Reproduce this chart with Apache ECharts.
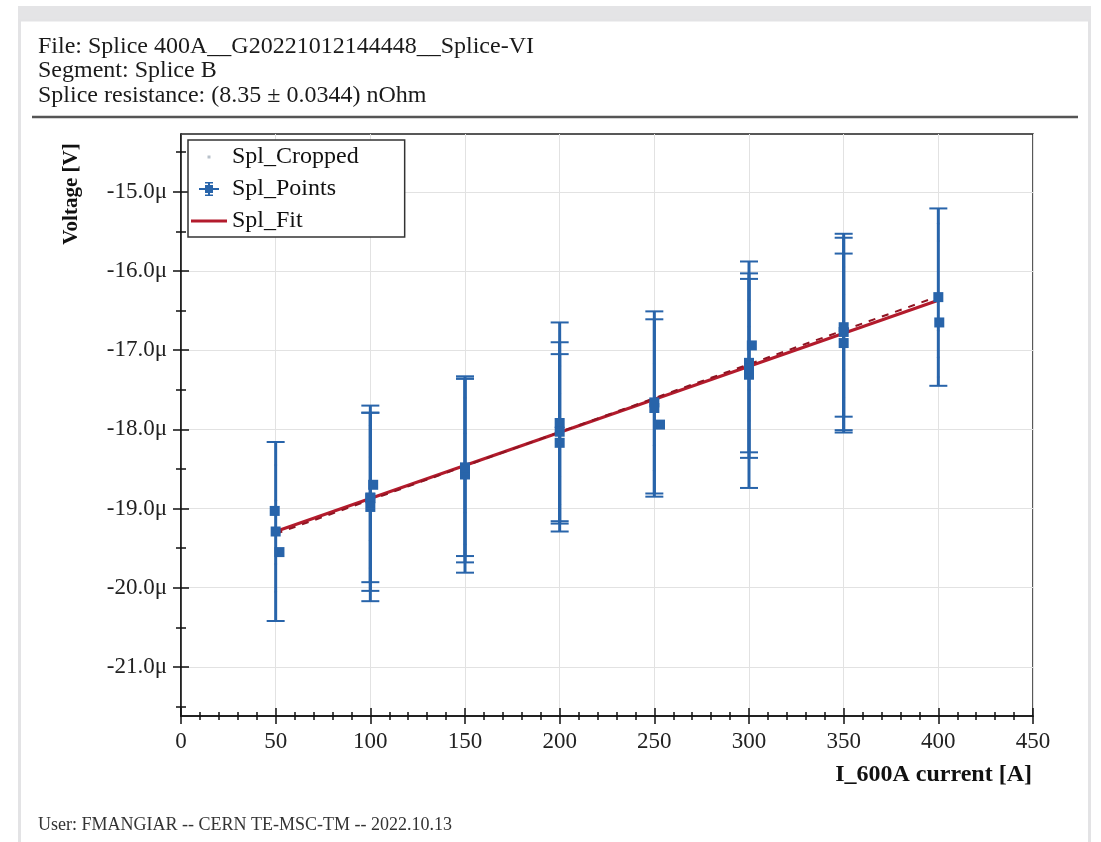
<!DOCTYPE html>
<html lang="en">
<head>
    <meta charset="UTF-8">
    <title>Splice VI</title>
    <script src="https://cdn.jsdelivr.net/npm/echarts@6/dist/echarts.min.js"></script>
    <style>
        html, body { margin: 0; padding: 0; background: #fff; }
    </style>
</head>
<body>
<div id="chart" style="width: 1101px;height:842px"></div>
<script>
    // Spl_Points: current [A], voltage [uV], error [uV] (0 = no bar drawn)
    var pointX = [50, 49.5, 52, 100, 100, 100, 101.5, 150, 150, 150, 200, 200, 200, 250, 250, 253, 300, 300, 300, 301.5, 350, 350, 350, 400, 400.5];
    var pointY = [-19.29, -19.03, -19.55, -18.87, -18.86, -18.98, -18.70, -18.57, -18.52, -18.48, -17.92, -18.03, -18.17, -17.66, -17.73, -17.94, -17.31, -17.16, -17.23, -16.94, -16.71, -16.77, -16.91, -16.33, -16.65];
    var pointErr = [1.13, 0, 0, 1.17, 1.07, 1.19, 0, 1.24, 1.16, 1.12, 1.27, 1.13, 1.12, 1.15, 1.12, 0, 1.43, 1.13, 1.13, 0, 1.13, 1.24, 1.13, 1.12, 0];

    // Spl_Cropped: a few raw samples visible along the plateaus
    var cropX = [50, 50, 50, 50, 100, 100, 100, 100, 150, 150, 150, 150, 200, 200, 200, 200, 250, 250, 250, 250, 300, 300, 300, 300, 350, 350, 350, 350, 400, 400, 400, 400, 400];
    var cropY = [-18.45, -18.90, -19.70, -20.05, -17.95, -18.35, -19.40, -19.75, -17.60, -18.05, -19.05, -19.45, -17.20, -17.55, -18.60, -18.95, -16.88, -17.17, -18.20, -18.52, -16.37, -16.70, -17.50, -17.89, -15.95, -16.30, -17.25, -17.60, -15.40, -15.62, -16.75, -17.09, -17.34];

    // Spl_Fit end points (8.35 nOhm slope)
    var fitX = [50, 400];
    var fitY = [-19.29, -16.37];
    var fitY2 = [-19.32, -16.32];

    var yMajor = [-21, -20, -19, -18, -17, -16, -15];
    var yMinor = [-21.5, -20.5, -19.5, -18.5, -17.5, -16.5, -15.5, -14.5];
    var yMin = -21.62, yMax = -14.27;

    var headerLines = [
        'File: Splice 400A__G20221012144448__Splice-VI',
        'Segment: Splice B',
        'Splice resistance: (8.35 \u00b1 0.0344) nOhm'
    ];
    var footer = 'User: FMANGIAR -- CERN TE-MSC-TM -- 2022.10.13';

    var serif = '"Liberation Serif", "Times New Roman", serif';
    var blue = '#2864aa';
    var red = '#b31b2c';

    var points = pointX.map(function (x, i) { return [x, pointY[i], pointErr[i]]; });
    var cropped = cropX.map(function (x, i) { return [x, cropY[i]]; });

    function renderErrorBar(params, api) {
        var x = api.value(0), y = api.value(1), e = api.value(2);
        if (!e) return null;
        var top = api.coord([x, y + e]);
        var bot = api.coord([x, y - e]);
        var hw = 9;
        var st = { stroke: blue, lineWidth: 2 };
        return {
            type: 'group',
            children: [
                { type: 'line', shape: { x1: top[0], y1: top[1], x2: bot[0], y2: bot[1] }, style: { stroke: blue, lineWidth: 3 } },
                { type: 'line', shape: { x1: top[0] - hw, y1: top[1], x2: top[0] + hw, y2: top[1] }, style: st },
                { type: 'line', shape: { x1: bot[0] - hw, y1: bot[1], x2: bot[0] + hw, y2: bot[1] }, style: st }
            ]
        };
    }

    var tickLine = { color: '#111', width: 1.5 };
    var myChart = echarts.init(document.getElementById('chart'));
    var option = {
        backgroundColor: '#ffffff',
        animation: false,
        textStyle: { fontFamily: serif },
        grid: {
            left: 181, right: 68, top: 134, bottom: 126,
            show: true, borderColor: '#222', borderWidth: 1.5
        },
        legend: {
            orient: 'vertical',
            left: 188, top: 140,
            itemWidth: 36, itemHeight: 14, itemGap: 8,
            padding: [5, 46, 4, 3],
            backgroundColor: '#fff', borderColor: '#333', borderWidth: 1.5,
            textStyle: { fontFamily: serif, fontSize: 24, color: '#111' },
            data: [
                { name: 'Spl_Cropped', icon: 'path://M0,0M36,14M16.5,5.5h3v3h-3z', itemStyle: { color: '#9aa6b4', borderWidth: 0 } },
                { name: 'Spl_Points', icon: 'path://M0,0M36,14M8,6h20v2h-20zM17,0h2v14h-2zM14,0h8v1.5h-8zM14,12.5h8v1.5h-8zM14,3h8v8h-8z', itemStyle: { color: blue, borderWidth: 0 } },
                { name: 'Spl_Fit', icon: 'path://M0,0M36,14M0,5.5h36v3h-36z', itemStyle: { color: red, borderWidth: 0 } }
            ]
        },
        xAxis: [{
            type: 'value', min: 0, max: 450, interval: 50, position: 'bottom',
            axisLine: { lineStyle: tickLine },
            axisTick: { length: 8, lineStyle: tickLine },
            minorTick: { show: true, splitNumber: 5, length: 4, lineStyle: tickLine },
            axisLabel: { fontFamily: serif, fontSize: 23, color: '#222', margin: 14 },
            splitLine: { show: true, lineStyle: { color: '#e2e2e2', width: 1 } }
        }, {
            type: 'value', min: 0, max: 450, interval: 50, position: 'bottom',
            axisLine: { show: false },
            axisTick: { inside: true, length: 8, lineStyle: tickLine },
            minorTick: { show: true, splitNumber: 5, length: 4, lineStyle: tickLine },
            axisLabel: { show: false },
            splitLine: { show: false }
        }],
        yAxis: [{
            type: 'value', min: yMin, max: yMax, position: 'left',
            axisLine: { show: true, lineStyle: tickLine },
            axisTick: { show: true, length: 8, customValues: yMajor, lineStyle: tickLine },
            axisLabel: {
                customValues: yMajor, fontFamily: serif, fontSize: 23, color: '#222', margin: 14,
                formatter: function (v) { return v.toFixed(1) + '\u03bc'; }
            },
            splitLine: { show: true, lineStyle: { color: '#e2e2e2', width: 1 } }
        }, {
            type: 'value', min: yMin, max: yMax, position: 'left',
            axisLine: { show: false },
            axisTick: { show: true, inside: true, length: 8, customValues: yMajor, lineStyle: tickLine },
            axisLabel: { show: false },
            splitLine: { show: false }
        }, {
            type: 'value', min: yMin, max: yMax, position: 'left',
            axisLine: { show: false },
            axisTick: { show: true, length: 5, customValues: yMinor, lineStyle: tickLine },
            axisLabel: { show: false },
            splitLine: { show: false }
        }, {
            type: 'value', min: yMin, max: yMax, position: 'left',
            axisLine: { show: false },
            axisTick: { show: true, inside: true, length: 5, customValues: yMinor, lineStyle: tickLine },
            axisLabel: { show: false },
            splitLine: { show: false }
        }],
        graphic: [
            { type: 'rect', silent: true, z: -10, shape: { x: 18, y: 6, width: 1073, height: 15 }, style: { fill: '#e4e4e6' } },
            { type: 'rect', silent: true, z: -10, shape: { x: 19.5, y: 20, width: 1070, height: 830 }, style: { fill: '#fff', stroke: '#e3e3e5', lineWidth: 3 } },
            { type: 'text', x: 38, y: 47, style: { text: headerLines[0], font: '24px ' + serif, fill: '#1a1a1a', verticalAlign: 'middle' } },
            { type: 'text', x: 38, y: 71, style: { text: headerLines[1], font: '24px ' + serif, fill: '#1a1a1a', verticalAlign: 'middle' } },
            { type: 'text', x: 38, y: 96, style: { text: headerLines[2], font: '24px ' + serif, fill: '#1a1a1a', verticalAlign: 'middle' } },
            { type: 'line', shape: { x1: 32, y1: 117, x2: 1078, y2: 117 }, style: { stroke: '#555', lineWidth: 2.5 } },
            { type: 'text', x: 72, y: 194, rotation: Math.PI / 2, style: { text: 'Voltage [V]', font: 'bold 21px ' + serif, fill: '#111', align: 'center', verticalAlign: 'middle' } },
            { type: 'text', x: 1032, y: 775, style: { text: 'I_600A current [A]', font: 'bold 24px ' + serif, fill: '#111', align: 'right', verticalAlign: 'middle' } },
            { type: 'text', x: 38, y: 825, style: { text: footer, font: '18px ' + serif, fill: '#333', verticalAlign: 'middle' } }
        ],
        series: [{
            name: 'Spl_Cropped',
            type: 'scatter',
            symbol: 'circle',
            symbolSize: 3,
            color: '#9aa6b4',
            itemStyle: { color: '#7f97b8', opacity: 0.7 },
            data: cropped,
            z: 2
        }, {
            name: 'Spl_Fit',
            type: 'line',
            symbol: 'none',
            color: red,
            lineStyle: { color: red, width: 3 },
            data: fitX.map(function (x, i) { return [x, fitY[i]]; }),
            z: 3
        }, {
            name: 'Spl_Fit',
            type: 'line',
            symbol: 'none',
            color: red,
            lineStyle: { color: '#8f1422', width: 2, type: [7, 7] },
            data: fitX.map(function (x, i) { return [x, fitY2[i]]; }),
            z: 3
        }, {
            name: 'Spl_Points_err',
            type: 'custom',
            renderItem: renderErrorBar,
            encode: { x: 0, y: 1 },
            data: points,
            z: 4
        }, {
            name: 'Spl_Points',
            type: 'scatter',
            symbol: 'rect',
            symbolSize: 10,
            color: blue,
            itemStyle: { color: blue, opacity: 1 },
            data: points,
            z: 5
        }]
    };

    option && myChart.setOption(option);
</script>
</body>
</html>
